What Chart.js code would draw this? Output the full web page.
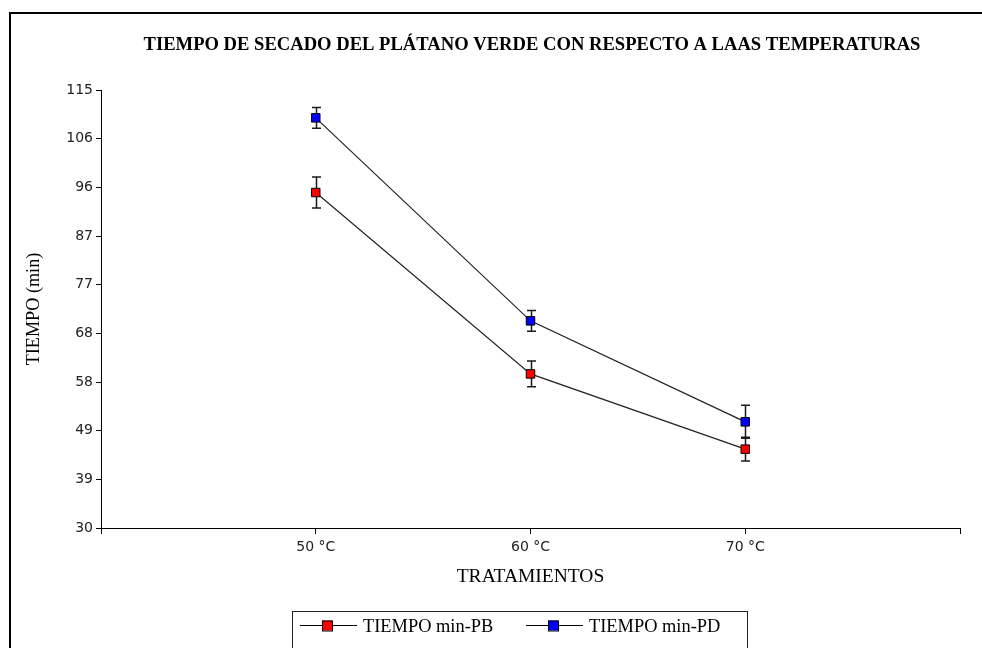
<!DOCTYPE html>
<html><head><meta charset="utf-8">
<script src="https://cdn.jsdelivr.net/npm/chart.js@4.4.0/dist/chart.umd.min.js"></script>
<style>html,body{margin:0;padding:0;background:#fff;overflow:hidden}
#wrap{position:absolute;left:0;top:0;width:982px;height:648px}</style>
</head><body><div id="wrap"><canvas id="c" width="982" height="648"></canvas></div>
<script>
const categories = ['50 °C', '60 °C', '70 °C'];
const seriesNames = ['TIEMPO min-PB', 'TIEMPO min-PD'];
const pbValues = [95.1, 59.9, 45.3];
const pbErrors = [3.0, 2.5, 2.3];
const pdValues = [109.6, 70.2, 50.6];
const pdErrors = [2.0, 2.0, 3.2];
const yTickLabels = ['30', '39', '49', '58', '68', '77', '87', '96', '106', '115'];
const yMin = 30, yMax = 115;
const chartTitle = 'TIEMPO DE SECADO DEL PLÁTANO VERDE CON RESPECTO A LAAS TEMPERATURAS';
const xTitle = 'TRATAMIENTOS';
const yTitle = 'TIEMPO (min)';
const seriesColors = ['#ff0000', '#0000ff'];

const toPoints = vals => vals.map((v, i) => ({x: i + 1, y: v}));

const errorBars = {
  id: 'errorBars',
  beforeDatasetsDraw(chart) {
    const ctx = chart.ctx, xs = chart.scales.x, ys = chart.scales.y;
    chart.data.datasets.forEach(ds => {
      ds.data.forEach((p, i) => {
        const e = ds.errors[i];
        const x = Math.round(xs.getPixelForValue(p.x)) + 0.5;
        const yt = ys.getPixelForValue(p.y + e), yb = ys.getPixelForValue(p.y - e);
        ctx.save();
        ctx.strokeStyle = '#1a1a1a';
        ctx.lineWidth = 1.5;
        ctx.beginPath();
        ctx.moveTo(x, yt); ctx.lineTo(x, yb);
        ctx.moveTo(x - 4.5, yt); ctx.lineTo(x + 4.5, yt);
        ctx.moveTo(x - 4.5, yb); ctx.lineTo(x + 4.5, yb);
        ctx.stroke();
        ctx.restore();
      });
    });
  }
};

const decorations = {
  id: 'decorations',
  afterDraw(chart) {
    const ctx = chart.ctx;
    ctx.save();
    // frame
    ctx.fillStyle = '#000';
    ctx.fillRect(9, 12, 973, 2);
    ctx.fillRect(9, 12, 2, 636);
    // title
    ctx.font = 'bold 18.6px "Liberation Serif"';
    ctx.textAlign = 'center';
    ctx.textBaseline = 'alphabetic';
    ctx.fillStyle = '#000';
    ctx.fillText(chartTitle, 532, 50);
    // legend
    ctx.strokeStyle = '#222';
    ctx.lineWidth = 1;
    ctx.strokeRect(292.5, 611.5, 455, 60);
    const starts = [300, 526];
    chart.data.datasets.forEach((ds, i) => {
      const x0 = starts[i], y = 625.5;
      ctx.strokeStyle = '#000';
      ctx.beginPath(); ctx.moveTo(x0, y); ctx.lineTo(x0 + 57, y); ctx.stroke();
      ctx.fillStyle = ds.pointBackgroundColor;
      ctx.fillRect(x0 + 22, y - 5, 10, 10);
      ctx.strokeRect(x0 + 22.5, y - 4.5, 10, 10);
      ctx.fillStyle = '#000';
      ctx.font = '18.4px "Liberation Serif"';
      ctx.textAlign = 'left';
      ctx.fillText(ds.label, x0 + 63, 631.5);
    });
    ctx.restore();
  }
};

new Chart(document.getElementById('c'), {
  type: 'line',
  data: {
    datasets: [
      {label: seriesNames[0], data: toPoints(pbValues), errors: pbErrors,
       borderColor: '#222', borderWidth: 1.2, pointStyle: 'rect', pointRadius: 6,
       pointBackgroundColor: seriesColors[0], pointBorderColor: '#000', pointBorderWidth: 1, tension: 0},
      {label: seriesNames[1], data: toPoints(pdValues), errors: pdErrors,
       borderColor: '#222', borderWidth: 1.2, pointStyle: 'rect', pointRadius: 6,
       pointBackgroundColor: seriesColors[1], pointBorderColor: '#000', pointBorderWidth: 1, tension: 0}
    ]
  },
  options: {
    responsive: false,
    animation: false,
    devicePixelRatio: 1,
    layout: {padding: {left: 0, right: 22, top: 90, bottom: 0}},
    plugins: {legend: {display: false}, title: {display: false}, tooltip: {enabled: false}},
    scales: {
      x: {
        type: 'linear', min: 0, max: categories.length + 1,
        afterBuildTicks: s => { s.ticks = [0, 1, 2, 3, 4].map(v => ({value: v})); },
        afterFit: s => { s.height = 120; },
        ticks: {
          callback: v => categories[v - 1] || '',
          font: {family: '"DejaVu Sans"', size: 14}, color: '#222', padding: 5, maxRotation: 0
        },
        grid: {drawOnChartArea: false, drawTicks: true, tickLength: 6, color: '#000'},
        border: {color: '#000', width: 1},
        title: {display: true, text: xTitle, font: {family: '"Liberation Serif"', size: 19.5}, color: '#000',
                padding: {top: 0, bottom: 59}}
      },
      y: {
        type: 'linear', min: yMin, max: yMax,
        afterBuildTicks: s => { s.ticks = yTickLabels.map((t, i) => ({value: yMin + i * (yMax - yMin) / (yTickLabels.length - 1)})); },
        afterFit: s => { s.width = 101; },
        ticks: {
          callback: (v, i) => yTickLabels[i],
          font: {family: '"DejaVu Sans"', size: 14}, color: '#222', padding: 3
        },
        grid: {drawOnChartArea: false, drawTicks: true, tickLength: 5, color: '#000'},
        border: {color: '#000', width: 1},
        title: {display: true, text: yTitle, font: {family: '"Liberation Serif"', size: 18.2}, color: '#000',
                padding: {top: 23, bottom: 0}}
      }
    }
  },
  plugins: [errorBars, decorations]
});
</script></body></html>
